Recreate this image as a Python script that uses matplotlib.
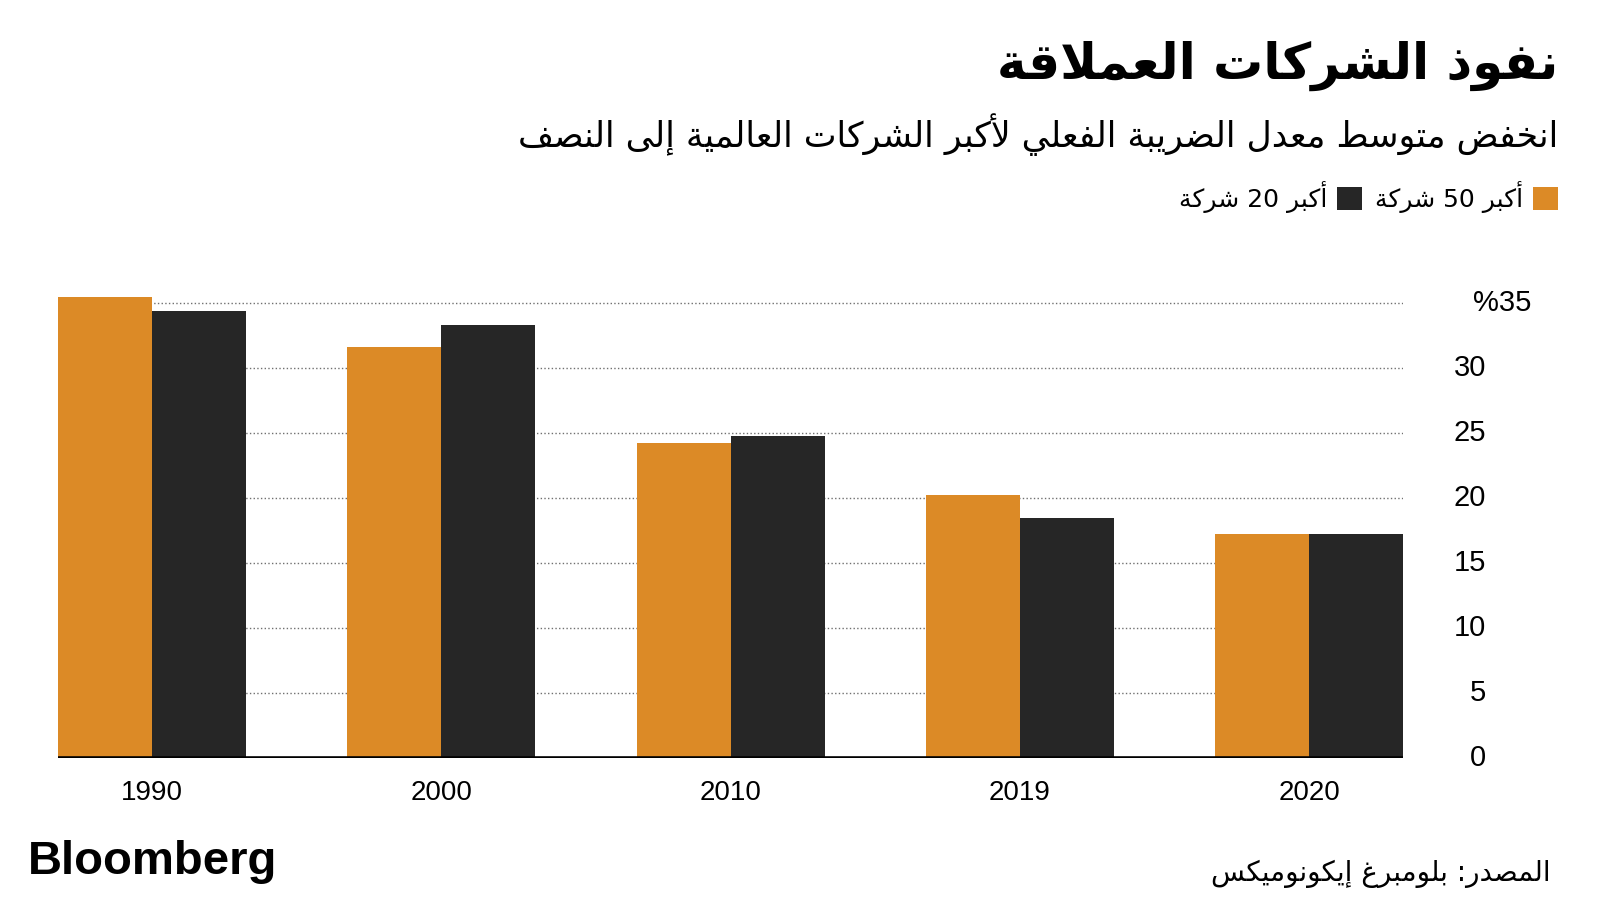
import re
import matplotlib
matplotlib.use("Agg")
import matplotlib.pyplot as plt
import matplotlib.transforms as mtransforms

# --- data ---
years = ["1990", "2000", "2010", "2019", "2020"]
top50 = [35.5, 31.6, 24.2, 20.2, 17.2]
top20 = [34.4, 33.3, 24.8, 18.5, 17.2]
yticks = [0, 5, 10, 15, 20, 25, 30, 35]

title = "نفوذ الشركات العملاقة"
subtitle = "انخفض متوسط معدل الضريبة الفعلي لأكبر الشركات العالمية إلى النصف"
label50 = "أكبر 50 شركة"
label20 = "أكبر 20 شركة"
source = "المصدر: بلومبرغ إيكونوميكس"

ORANGE = "#DC8A26"
DARK = "#262626"

# --- minimal arabic shaping (matplotlib has no bidi / joining) ---
FORMS = {
    'ء': (0xFE80, 1), 'آ': (0xFE81, 2), 'أ': (0xFE83, 2), 'ؤ': (0xFE85, 2),
    'إ': (0xFE87, 2), 'ئ': (0xFE89, 4), 'ا': (0xFE8D, 2), 'ب': (0xFE8F, 4),
    'ة': (0xFE93, 2), 'ت': (0xFE95, 4), 'ث': (0xFE99, 4), 'ج': (0xFE9D, 4),
    'ح': (0xFEA1, 4), 'خ': (0xFEA5, 4), 'د': (0xFEA9, 2), 'ذ': (0xFEAB, 2),
    'ر': (0xFEAD, 2), 'ز': (0xFEAF, 2), 'س': (0xFEB1, 4), 'ش': (0xFEB5, 4),
    'ص': (0xFEB9, 4), 'ض': (0xFEBD, 4), 'ط': (0xFEC1, 4), 'ظ': (0xFEC5, 4),
    'ع': (0xFEC9, 4), 'غ': (0xFECD, 4), 'ف': (0xFED1, 4), 'ق': (0xFED5, 4),
    'ك': (0xFED9, 4), 'ل': (0xFEDD, 4), 'م': (0xFEE1, 4), 'ن': (0xFEE5, 4),
    'ه': (0xFEE9, 4), 'و': (0xFEED, 2), 'ى': (0xFEEF, 2), 'ي': (0xFEF1, 4),
}
LAM_ALEF = {'آ': 0xFEF5, 'أ': 0xFEF7, 'إ': 0xFEF9, 'ا': 0xFEFB}


def ar(text):
    units = []
    i = 0
    while i < len(text):
        c = text[i]
        if c == 'ل' and i + 1 < len(text) and text[i + 1] in LAM_ALEF:
            units.append((LAM_ALEF[text[i + 1]], 2))
            i += 2
            continue
        if c in FORMS:
            units.append(FORMS[c])
        else:
            units.append((c, 0))
        i += 1
    out = []
    for k, (base, n) in enumerate(units):
        if n == 0:
            out.append(base)
            continue
        prev_ok = k > 0 and units[k - 1][1] == 4 and n >= 2
        next_ok = n == 4 and k + 1 < len(units) and units[k + 1][1] >= 2
        if prev_ok and next_ok:
            off = 3
        elif prev_ok:
            off = 1
        elif next_ok:
            off = 2
        else:
            off = 0
        out.append(chr(base + off))
    s = "".join(out)[::-1]
    return re.sub(r"[0-9A-Za-z]+", lambda m: m.group(0)[::-1], s)


AR_FONT = ["DejaVu Sans"]
NUM_FONT = ["Liberation Sans", "DejaVu Sans"]

fig = plt.figure(figsize=(16, 9), dpi=100)
ax = fig.add_axes([58.3 / 1600, 142 / 900, 1344.7 / 1600, 474.5 / 900])

w = 0.325
x = list(range(len(years)))
b50 = ax.bar([i - w / 2 for i in x], top50, width=w, color=ORANGE, zorder=2)
b20 = ax.bar([i + w / 2 for i in x], top20, width=w, color=DARK, zorder=2)

ax.set_xlim(-w, len(years) - 1 + w)
ax.set_ylim(0, 36.5)
ax.set_yticks(yticks[1:])
ax.grid(axis="y", linestyle=":", color="#707070", lw=1, zorder=1)
ax.axhline(0, color="black", lw=2.6, zorder=3)
for s in ax.spines.values():
    s.set_visible(False)

ax.set_xticks(x)
ax.set_xticklabels(years, fontsize=20, family=NUM_FONT)
ax.tick_params(axis="x", length=0, pad=16)
ax.tick_params(axis="y", length=0, labelleft=False)

trans = mtransforms.blended_transform_factory(ax.transAxes, ax.transData)
for v in yticks:
    if v == 35:
        ax.text((1531 - 58.3) / 1344.7, v, "%35", transform=trans, ha="right",
                va="center", fontsize=21, family=NUM_FONT)
    else:
        ax.text((1486 - 58.3) / 1344.7, v, str(v), transform=trans, ha="right",
                va="center", fontsize=21, family=NUM_FONT)

# titles
fig.text(1558 / 1600, 1 - 66 / 900, ar(title), ha="right", va="center",
         fontsize=36, fontweight="bold", family=AR_FONT)
fig.text(1558 / 1600, 1 - 135 / 900, ar(subtitle), ha="right", va="center",
         fontsize=25, family=AR_FONT)

leg = fig.legend(handles=[b20, b50], labels=[ar(label20), ar(label50)],
                 loc="center right", bbox_to_anchor=(1558 / 1600, 1 - 197 / 900),
                 ncol=2, markerfirst=False, frameon=False,
                 handlelength=1.0, handleheight=1.0, handletextpad=0.4,
                 columnspacing=0.5, borderpad=0, borderaxespad=0,
                 prop={"family": AR_FONT, "size": 18})

fig.text(28 / 1600, 1 - 862 / 900, "Bloomberg", ha="left", va="center",
         fontsize=34, fontweight="bold", family=NUM_FONT)
fig.text(1551 / 1600, 1 - 874 / 900, ar(source), ha="right", va="center",
         fontsize=20, family=AR_FONT)

fig.savefig("out.png", dpi=100, facecolor="white")
